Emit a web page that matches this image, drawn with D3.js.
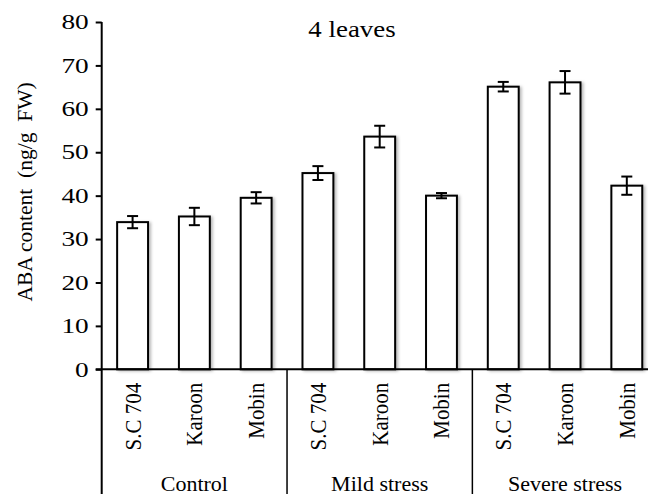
<!DOCTYPE html>
<html>
<head>
<meta charset="utf-8">
<script src="https://cdn.jsdelivr.net/npm/d3@7"></script>
<style>
  html, body { margin: 0; padding: 0; background: #fff; }
  svg { display: block; }
  text { font-family: "Liberation Serif", "Times New Roman", serif; fill: #000; }
</style>
</head>
<body>
<div id="chart"></div>
<script>
// ABA content, 4 leaves - clustered bars with error bars
var groups    = ["Control", "Mild stress", "Severe stress"];
var cultivars = ["S.C 704", "Karoon", "Mobin"];
var values    = [33.9, 35.2, 39.5, 45.2, 53.6, 40.0, 65.1, 66.1, 42.3];
var errors    = [1.4, 2.0, 1.3, 1.6, 2.5, 0.6, 1.1, 2.6, 2.1];
var yTicks    = [0, 10, 20, 30, 40, 50, 60, 70, 80];

var totalW = 648, totalH = 494;
// the source picture's text looks horizontally wide
var stretch = 1.12;
var tickStretch = 1.3;

// flatten to one entry per bar
var bars = [];
groups.forEach(function(gName, gi) {
    cultivars.forEach(function(c, ci) {
        var i = gi * cultivars.length + ci;
        bars.push({ key: gName + "|" + c, group: gName, cultivar: c, value: values[i], err: errors[i] });
    });
});

var svg = d3.select("#chart").append("svg")
    .attr("width", totalW)
    .attr("height", totalH);

var defs = svg.append("defs");
var shadow = defs.append("filter").attr("id", "barShadow")
    .attr("x", "-20%").attr("y", "-5%").attr("width", "150%").attr("height", "110%");
shadow.append("feDropShadow")
    .attr("dx", 2).attr("dy", 1)
    .attr("stdDeviation", 1.4)
    .attr("flood-color", "#000")
    .attr("flood-opacity", 0.28);

// --- Scales ---
var x = d3.scaleBand()
    .domain(bars.map(function(d) { return d.key; }))
    .range([101.7, 657.7])
    .paddingInner(0.5)
    .paddingOuter(0.25);

var y = d3.scaleLinear()
    .domain([0, 80])
    .range([369.3, 22]);

var step = x.step();
var x0 = x.range()[0];

// --- Bars ---
svg.append("g").selectAll("rect")
    .data(bars)
    .join("rect")
    .attr("x", function(d) { return x(d.key); })
    .attr("y", function(d) { return y(d.value); })
    .attr("width", x.bandwidth())
    .attr("height", function(d) { return y(0) - y(d.value); })
    .attr("fill", "#fff")
    .attr("stroke", "#000")
    .attr("stroke-width", 2)
    .attr("filter", "url(#barShadow)");

// --- Error bars ---
var eb = svg.append("g").attr("stroke", "#000").attr("stroke-width", 2);
bars.forEach(function(d) {
    var cx = x(d.key) + x.bandwidth() / 2;
    var capW = 5.5;
    eb.append("line")
        .attr("x1", cx).attr("x2", cx)
        .attr("y1", y(d.value + d.err)).attr("y2", y(d.value - d.err));
    eb.append("line")
        .attr("x1", cx - capW).attr("x2", cx + capW)
        .attr("y1", y(d.value + d.err)).attr("y2", y(d.value + d.err));
    eb.append("line")
        .attr("x1", cx - capW).attr("x2", cx + capW)
        .attr("y1", y(d.value - d.err)).attr("y2", y(d.value - d.err));
});

// --- Y axis ---
var yAxis = svg.append("g")
    .attr("transform", "translate(" + x0 + ",0)")
    .call(d3.axisLeft(y).tickValues(yTicks).tickSize(6));
yAxis.select(".domain").remove();
yAxis.selectAll(".tick line").attr("stroke", "#000").attr("stroke-width", 2);
yAxis.selectAll(".tick text")
    .style("font-family", "'Liberation Serif', serif")
    .style("font-size", "21px")
    .attr("fill", "#000")
    .attr("x", -13 / tickStretch)
    .attr("transform", "scale(" + tickStretch + ",1)");

// axis lines (y axis runs down through the category area)
svg.append("line")
    .attr("x1", x0).attr("x2", x0)
    .attr("y1", y(80)).attr("y2", totalH)
    .attr("stroke", "#000").attr("stroke-width", 2);
svg.append("line")
    .attr("x1", x0 - 6).attr("x2", x.range()[1])
    .attr("y1", y(0)).attr("y2", y(0))
    .attr("stroke", "#000").attr("stroke-width", 2);

// group separators below the axis
groups.forEach(function(gName, gi) {
    if (gi === 0) return;
    var sx = x0 + gi * cultivars.length * step;
    svg.append("line")
        .attr("x1", sx).attr("x2", sx)
        .attr("y1", y(0)).attr("y2", totalH)
        .attr("stroke", "#000").attr("stroke-width", 1.5);
});

// --- Category labels (rotated) ---
bars.forEach(function(d) {
    var cx = x(d.key) + x.bandwidth() / 2 + 8;
    svg.append("text")
        .attr("transform", "translate(" + cx + "," + (y(0) + 13.5) + ") rotate(-90) scale(1," + stretch + ")")
        .attr("text-anchor", "end")
        .style("font-size", "21px")
        .text(d.cultivar);
});

// --- Group labels ---
groups.forEach(function(gName, gi) {
    var gx = x0 + (gi + 0.5) * cultivars.length * step;
    svg.append("text")
        .attr("transform", "translate(" + gx + ",490.5)")
        .attr("text-anchor", "middle")
        .style("font-size", "22px")
        .text(gName);
});

// --- Title ---
svg.append("text")
    .attr("transform", "translate(352,37) scale(" + stretch + ",1)")
    .attr("text-anchor", "middle")
    .style("font-size", "24px")
    .text("4 leaves");

// --- Y-axis label ---
svg.append("text")
    .attr("transform", "translate(32,192) rotate(-90)")
    .attr("text-anchor", "middle")
    .style("font-size", "21.5px")
    .style("white-space", "pre")
    .text("ABA content  (ng/g  FW)");
</script>
</body>
</html>
